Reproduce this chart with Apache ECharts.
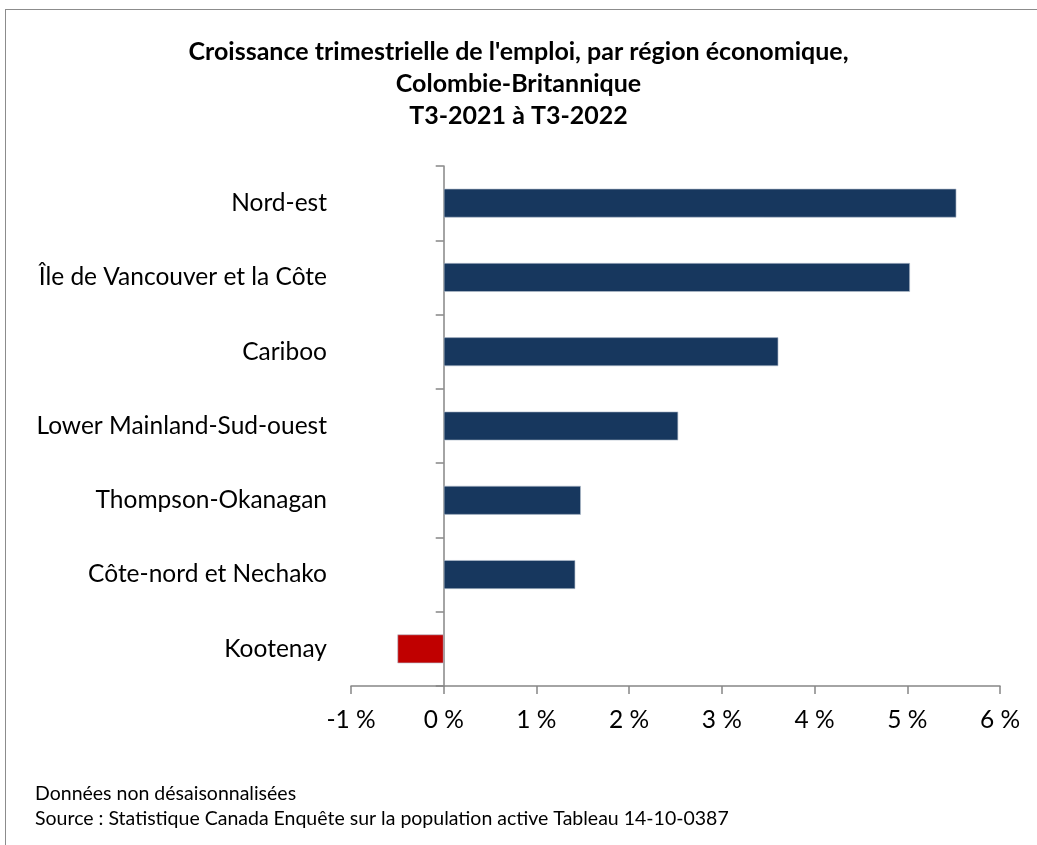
<!DOCTYPE html>
<html>
<head>
<meta charset="utf-8">
<script src="https://cdn.jsdelivr.net/npm/echarts@6/dist/echarts.min.js"></script>
<style>
html,body{margin:0;padding:0;background:#fff;}
#frame{position:absolute;left:5px;top:9px;width:1040px;height:850px;border:1px solid #8c8c8c;box-sizing:border-box;}
#chart{position:absolute;left:0;top:0;width:1037px;height:845px;}
</style>
</head>
<body>
<div id="frame"></div>
<div id="chart"></div>
<script>
const categories = ["Nord-est", "Île de Vancouver et la Côte", "Cariboo", "Lower Mainland-Sud-ouest", "Thompson-Okanagan", "Côte-nord et Nechako", "Kootenay"];
const growth = [5.53, 5.03, 3.61, 2.53, 1.48, 1.42, -0.50];
const xTicks = [-1, 0, 1, 2, 3, 4, 5, 6];
const titleLines = ["Croissance trimestrielle de l'emploi, par région économique,", "Colombie-Britannique", "T3-2021 à T3-2022"];
const notes = ["Données non désaisonnalisées", "Source : Statistique Canada Enquête sur la population active Tableau 14-10-0387"];

const FONT = "Lato, 'Open Sans', sans-serif";
const chart = echarts.init(document.getElementById('chart'), null, {renderer: 'canvas'});
chart.setOption({
  animation: false,
  textStyle: {fontFamily: FONT},
  title: {
    text: titleLines.join('\n'),
    left: 'center', top: 31,
    textStyle: {fontFamily: FONT, fontWeight: 'bold', fontSize: 25, color: '#000', lineHeight: 32}
  },
  graphic: notes.map((t, i) => ({
    type: 'text', left: 35, top: 784 + i * 25,
    style: {text: t, fontFamily: FONT, fontSize: 19.5, fill: '#000'}
  })),
  grid: {left: 351, right: 37, top: 166, bottom: 159, containLabel: false, outerBoundsMode: 'none'},
  xAxis: {
    type: 'value', min: xTicks[0], max: xTicks[xTicks.length - 1], interval: 1,
    axisLine: {show: true, lineStyle: {color: '#868686', width: 1.5}},
    axisTick: {show: true, length: 8, lineStyle: {color: '#868686', width: 1.5}},
    splitLine: {show: false},
    axisLabel: {formatter: v => v + ' %', fontSize: 24.5, color: '#000', margin: 22, fontFamily: FONT}
  },
  yAxis: {
    type: 'category', data: categories, inverse: true,
    axisLine: {show: true, onZero: true, lineStyle: {color: '#868686', width: 1.5}},
    axisTick: {show: true, length: 8, lineStyle: {color: '#868686', width: 1.5}},
    axisLabel: {fontSize: 24.5, color: '#000', margin: 24, fontFamily: FONT}
  },
  series: [{
    type: 'bar', data: growth.map(v => ({value: v, itemStyle: {color: v < 0 ? '#C00000' : '#17375E'}})),
    barWidth: 29,
    itemStyle: {borderColor: 'rgba(180,190,205,0.8)', borderWidth: 0.8}
  }]
});
</script>
</body>
</html>
